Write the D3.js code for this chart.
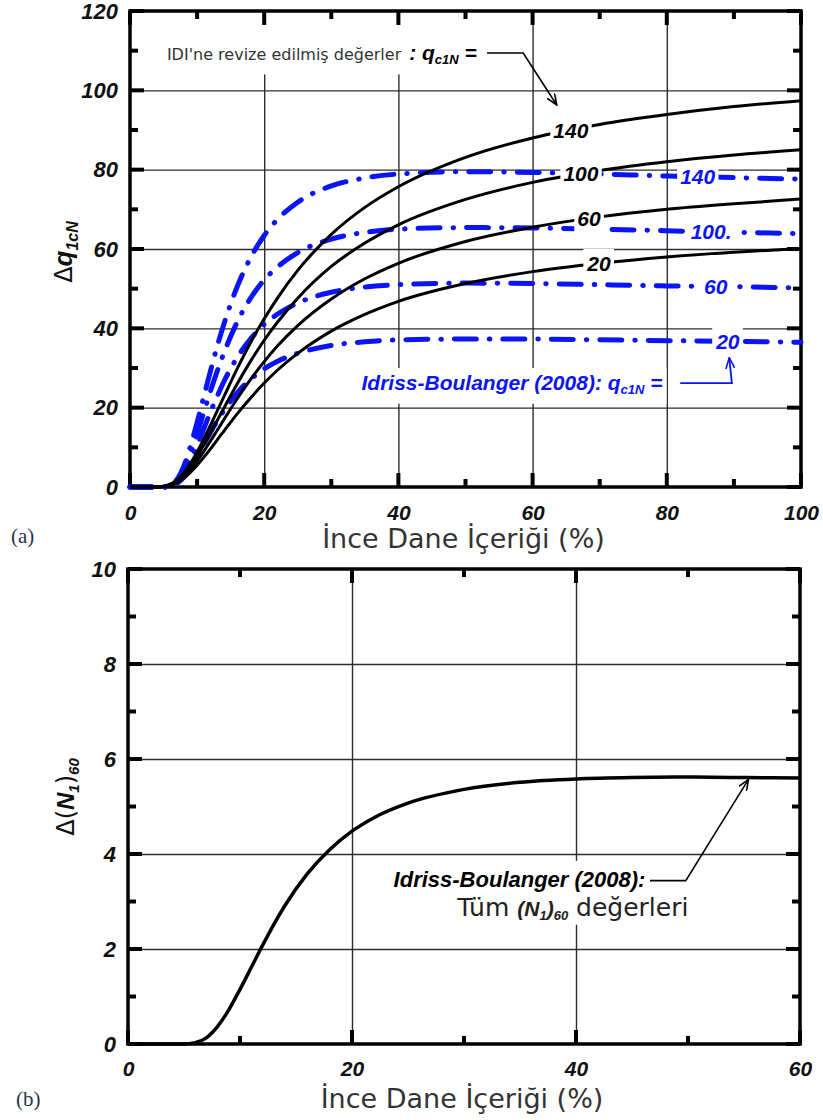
<!DOCTYPE html>
<html>
<head>
<meta charset="utf-8">
<script src="https://cdn.jsdelivr.net/npm/d3@7"></script>
<style>
  body { margin: 0; background: #fff; }
  svg { display: block; }
</style>
</head>
<body>
<svg id="fig" width="823" height="1120"></svg>
<script>
// ---- Panel (a): fines-content correction for CPT tip resistance ----
const FC = [0,4,5,6,7,8,9,10,11,12,13,14,16,18,20,22,25,30,35,40,50,60,70,80,90,100];

// revised curves (solid black), one per qc1N
const revised140 = [0,0,0.2,0.7,1.8,3.5,5.9,8.8,12.1,15.6,19.2,22.8,29.9,36.5,42.4,47.7,54.6,63.7,70.5,75.7,83.1,88.0,91.4,93.9,95.9,97.4];
const revised100 = [0,0,0.2,0.6,1.6,3.1,5.2,7.7,10.6,13.6,16.8,19.9,26.1,31.8,37.0,41.6,47.6,55.6,61.5,66.1,72.5,76.8,79.8,82.0,83.7,85.0];
const revised60  = [0,0,0.1,0.5,1.3,2.6,4.4,6.6,9.0,11.6,14.3,17.0,22.3,27.2,31.6,35.6,40.7,47.4,52.5,56.4,61.9,65.5,68.1,70.0,71.4,72.6];
const revised20  = [0,0,0.1,0.4,1.1,2.2,3.7,5.5,7.5,9.6,11.9,14.1,18.5,22.5,26.2,29.5,33.7,39.3,43.5,46.8,51.3,54.3,56.4,58.0,59.2,60.1];

// Idriss-Boulanger (2008) curves (blue dash-dot)
const ib140 = [0,0,0,0.4,1.9,5.2,10.2,16.3,22.8,29.3,35.5,41.1,50.6,57.9,63.4,67.5,71.8,75.9,77.9,78.9,79.5,79.3,78.9,78.4,78.0,77.6];
const ib100 = [0,0,0,0.3,1.6,4.3,8.4,13.4,18.8,24.2,29.2,33.8,41.7,47.7,52.2,55.5,59.1,62.5,64.2,65.0,65.4,65.3,65.0,64.6,64.2,63.9];
const ib60  = [0,0,0,0.3,1.2,3.4,6.6,10.5,14.7,19.0,22.9,26.6,32.7,37.4,41.0,43.6,46.4,49.1,50.4,51.0,51.4,51.3,51.0,50.7,50.5,50.2];
const ib20  = [0,0,0,0.2,0.9,2.4,4.8,7.6,10.7,13.8,16.7,19.3,23.8,27.2,29.8,31.7,33.7,35.7,36.6,37.1,37.3,37.3,37.1,36.9,36.7,36.5];

const revisedNames = ["140","100","60","20"];
const ibNames      = ["140","100.","60","20"];
// where along each curve (in FC) its qc1N label sits
const revisedLabelFC = [65.7, 67.2, 68.4, 69.9];
const ibLabelFC      = [84.6, 86.6, 87.3, 89.1];

const xTicksA = [0,20,40,60,80,100];
const xMinorA = [10,30,50,70,90];
const yTicksA = [0,20,40,60,80,100,120];
const yMinorA = [10,30,50,70,90,110];

// ---- Panel (b): SPT blow-count correction ----
const FC_B = [0,4,5,6,7,8,9,10,11,12,13,14,16,18,20,22,25,30,35,40,45,50,55,60];
const dN160 = [0,0,0,0.03,0.13,0.37,0.72,1.15,1.61,2.07,2.51,2.91,3.58,4.09,4.48,4.77,5.07,5.36,5.51,5.58,5.61,5.62,5.61,5.60];

const xTicksB = [0,20,40,60];
const xMinorB = [10,30,50];
const yTicksB = [0,2,4,6,8,10];
const yMinorB = [1,3,5,7,9];

const xTitle = "İnce Dane İçeriği (%)";

const BLUE = "#0a14f5";
const TICKFONT = '"Liberation Sans", Arial, sans-serif';
const SANS = '"DejaVu Sans", Verdana, sans-serif';

const svg = d3.select("#fig");

const defs = svg.append("defs");
function arrowMarker(id, color) {
  defs.append("marker")
    .attr("id", id).attr("viewBox", "0 0 12 10")
    .attr("refX", 11).attr("refY", 5)
    .attr("markerWidth", 12).attr("markerHeight", 10)
    .attr("markerUnits", "userSpaceOnUse")
    .attr("orient", "auto")
    .append("path").attr("d", "M0,0.5 L11,5 L0,9.5")
    .attr("fill", "none").attr("stroke", color).attr("stroke-width", 1.6);
}
arrowMarker("arrK", "#000");
arrowMarker("arrB", BLUE);

function buildPanel(o) {
  const x = d3.scaleLinear().domain(o.xDom).range([o.left, o.right]);
  const y = d3.scaleLinear().domain(o.yDom).range([o.bottom, o.top]);
  const h = o.bottom - o.top, w = o.right - o.left;
  const root = svg.append("g");
  const layers = {
    grid: root.append("g"),
    mask: root.append("g"),
    frame: root.append("g"),
    curves: root.append("g"),
    labels: root.append("g"),
    notes: root.append("g")
  };
  const gridStyle = s => {
    s.select(".domain").remove();
    s.selectAll(".tick line").attr("stroke", "#2e2e2e").attr("stroke-width", 1.4);
    s.selectAll(".tick text").remove();
  };
  const inner = v => v > o.xDom[0] && v < o.xDom[1];
  const innerY = v => v > o.yDom[0] && v < o.yDom[1];
  layers.grid.append("g").attr("transform", `translate(0,${o.bottom})`)
    .call(d3.axisBottom(x).tickValues(o.xTicks.filter(inner)).tickSize(-h)).call(gridStyle);
  layers.grid.append("g").attr("transform", `translate(${o.left},0)`)
    .call(d3.axisLeft(y).tickValues(o.yTicks.filter(innerY)).tickSize(-w)).call(gridStyle);

  // inward tick marks on all four sides
  const F = layers.frame;
  const segs = [];
  [[o.xTicks, 14], [o.xMinor, 8]].forEach(([vals, len]) => vals.forEach(v => {
    segs.push([x(v), o.bottom, x(v), o.bottom - len]);
    segs.push([x(v), o.top, x(v), o.top + len]);
  }));
  [[o.yTicks, 14], [o.yMinor, 8]].forEach(([vals, len]) => vals.forEach(v => {
    segs.push([o.left, y(v), o.left + len, y(v)]);
    segs.push([o.right, y(v), o.right - len, y(v)]);
  }));
  F.append("g").selectAll("line").data(segs).join("line")
    .attr("x1", d => d[0]).attr("y1", d => d[1]).attr("x2", d => d[2]).attr("y2", d => d[3])
    .attr("stroke", "#000").attr("stroke-width", 4);
  F.append("rect").attr("x", o.left).attr("y", o.top).attr("width", w).attr("height", h)
    .attr("fill", "none").attr("stroke", "#000").attr("stroke-width", 3.5);

  // tick labels
  const lblStyle = size => s => {
    s.select(".domain").remove();
    s.selectAll(".tick line").remove();
    s.selectAll(".tick text").attr("font-family", TICKFONT).attr("font-weight", "bold")
      .attr("font-style", "italic").attr("font-size", size).attr("fill", "#111");
  };
  F.append("g").attr("transform", `translate(0,${o.bottom})`)
    .call(d3.axisBottom(x).tickValues(o.xTicks).tickSize(0).tickPadding(o.xPad).tickFormat(d3.format("d")))
    .call(lblStyle(21));
  F.append("g").attr("transform", `translate(${o.left},0)`)
    .call(d3.axisLeft(y).tickValues(o.yTicks).tickSize(0).tickPadding(o.yPad).tickFormat(d3.format("d")))
    .call(lblStyle(22));

  // x-axis title
  F.append("text").attr("x", (o.left + o.right) / 2 - 2).attr("y", o.titleY)
    .attr("text-anchor", "middle").attr("font-family", SANS).attr("font-size", 27)
    .attr("fill", "#333").text(xTitle);
  // panel tag
  F.append("text").attr("x", o.tagX).attr("y", o.tagY)
    .attr("font-family", '"Liberation Serif", "Times New Roman", serif')
    .attr("font-size", 21).attr("fill", "#263450").text(o.tag);

  return { x, y, layers };
}

// white backing box behind a text element
function backBox(layer, textSel, padX, padY) {
  const b = textSel.node().getBBox();
  layer.insert("rect", ":first-child")
    .attr("x", b.x - padX).attr("y", b.y - padY)
    .attr("width", b.width + 2 * padX).attr("height", b.height + 2 * padY)
    .attr("fill", "#fff");
}

function interp(xs, ys, xv) {
  const i = Math.max(1, Math.min(xs.length - 1, d3.bisectLeft(xs, xv)));
  const t = (xv - xs[i - 1]) / (xs[i] - xs[i - 1]);
  return ys[i - 1] + t * (ys[i] - ys[i - 1]);
}

// ================= Panel (a) =================
const A = buildPanel({
  left: 130, right: 801, top: 11, bottom: 487,
  xDom: [0, 100], yDom: [0, 120],
  xTicks: xTicksA, xMinor: xMinorA, yTicks: yTicksA, yMinor: yMinorA,
  xPad: 18, yPad: 12, titleY: 548, tag: "(a)", tagX: 11, tagY: 543
});

// y title: Δq_1cN
{
  const t = A.layers.frame.append("text")
    .attr("transform", "translate(72,252) rotate(-90)")
    .attr("text-anchor", "middle").attr("fill", "#111");
  t.append("tspan").attr("font-family", SANS).attr("font-size", 24).text("Δ");
  t.append("tspan").attr("font-family", TICKFONT).attr("font-weight", "bold").attr("font-style", "italic")
    .attr("font-size", 26).text("q");
  t.append("tspan").attr("font-family", TICKFONT).attr("font-weight", "bold").attr("font-style", "italic")
    .attr("font-size", 16).attr("dy", 6).text("1cN");
}

const lineA = d3.line().x((d, i) => A.x(FC[i])).y(d => A.y(d)).curve(d3.curveMonotoneX);
const revisedSeries = [revised140, revised100, revised60, revised20];
const ibSeries = [ib140, ib100, ib60, ib20];

ibSeries.forEach(s => {
  A.layers.curves.append("path").attr("d", lineA(s))
    .attr("fill", "none").attr("stroke", BLUE).attr("stroke-width", 5)
    .attr("stroke-linecap", "round").attr("stroke-dasharray", "22,13,0.5,13");
});
revisedSeries.forEach(s => {
  A.layers.curves.append("path").attr("d", lineA(s))
    .attr("fill", "none").attr("stroke", "#000").attr("stroke-width", 3);
});

function curveLabel(P, xs, series, fcAt, text, color) {
  const g = P.layers.labels.append("g");
  const t = g.append("text").attr("x", P.x(fcAt)).attr("y", P.y(interp(xs, series, fcAt)))
    .attr("dy", "0.36em").attr("text-anchor", "middle")
    .attr("font-family", TICKFONT).attr("font-weight", "bold").attr("font-style", "italic")
    .attr("font-size", 21).attr("fill", color).text(text);
  backBox(g, t, 3, 3);
}
revisedSeries.forEach((s, i) => curveLabel(A, FC, s, revisedLabelFC[i], revisedNames[i], "#000"));
ibSeries.forEach((s, i) => curveLabel(A, FC, s, ibLabelFC[i], ibNames[i], BLUE));

// note: revised values, pointing to the black family
{
  const N = A.layers.notes;
  const t1 = N.append("text").attr("x", A.x(5.5)).attr("y", A.y(107.6))
    .attr("font-family", SANS).attr("font-size", 16).attr("fill", "#333")
    .text("IDI'ne revize edilmiş değerler");
  const t2 = N.append("text").attr("x", A.x(41.6)).attr("y", A.y(107.6))
    .attr("font-family", TICKFONT).attr("font-weight", "bold").attr("font-style", "italic")
    .attr("font-size", 21).attr("fill", "#000");
  t2.append("tspan").text(": q");
  t2.append("tspan").attr("font-size", 13).attr("dy", 4).text("c1N");
  t2.append("tspan").attr("dy", -4).text(" =");
  const b1 = t1.node().getBBox(), b2 = t2.node().getBBox();
  A.layers.mask.append("rect").attr("x", b1.x - 6).attr("y", A.y(118.5))
    .attr("width", b2.x + b2.width - b1.x + 12).attr("height", A.y(104) - A.y(118.5)).attr("fill", "#fff");
  N.append("path")
    .attr("d", d3.line()([[A.x(53.2), A.y(109.4)], [A.x(58.6), A.y(109.4)], [A.x(63.6), A.y(96.3)]]))
    .attr("fill", "none").attr("stroke", "#000").attr("stroke-width", 1.6)
    .attr("marker-end", "url(#arrK)");
}

// note: Idriss-Boulanger family
{
  const N = A.layers.notes;
  const t = N.append("text").attr("x", A.x(34.5)).attr("y", A.y(24.5))
    .attr("font-family", TICKFONT).attr("font-weight", "bold").attr("font-style", "italic")
    .attr("font-size", 21).attr("fill", BLUE);
  t.append("tspan").text("Idriss-Boulanger (2008): q");
  t.append("tspan").attr("font-size", 13).attr("dy", 4).text("c1N");
  t.append("tspan").attr("dy", -4).text(" =");
  const b = t.node().getBBox();
  A.layers.mask.append("rect").attr("x", b.x - 4).attr("y", A.y(30))
    .attr("width", b.width + 8).attr("height", A.y(21) - A.y(30)).attr("fill", "#fff");
  N.append("path")
    .attr("d", d3.line()([[A.x(82.0), A.y(26.2)], [A.x(89.7), A.y(26.2)], [A.x(89.3), A.y(32.6)]]))
    .attr("fill", "none").attr("stroke", BLUE).attr("stroke-width", 1.8)
    .attr("marker-end", "url(#arrB)");
}

// ================= Panel (b) =================
const B = buildPanel({
  left: 128, right: 800, top: 569, bottom: 1044,
  xDom: [0, 60], yDom: [0, 10],
  xTicks: xTicksB, xMinor: xMinorB, yTicks: yTicksB, yMinor: yMinorB,
  xPad: 17, yPad: 12, titleY: 1108, tag: "(b)", tagX: 16, tagY: 1106
});

// y title: Δ(N1)60
{
  const t = B.layers.frame.append("text")
    .attr("transform", "translate(74,797) rotate(-90)")
    .attr("text-anchor", "middle").attr("fill", "#111");
  const bi = s => s.attr("font-family", TICKFONT).attr("font-weight", "bold").attr("font-style", "italic");
  t.append("tspan").attr("font-family", SANS).attr("font-size", 24).text("Δ");
  t.append("tspan").attr("font-family", SANS).attr("font-size", 24).text("(");
  bi(t.append("tspan")).attr("font-size", 24).text("N");
  bi(t.append("tspan")).attr("font-size", 15).attr("dy", 5).text("1");
  t.append("tspan").attr("font-family", SANS).attr("font-size", 24).attr("dy", -5).text(")");
  bi(t.append("tspan")).attr("font-size", 15).attr("dy", 5).text("60");
}

const lineB = d3.line().x((d, i) => B.x(FC_B[i])).y(d => B.y(d)).curve(d3.curveMonotoneX);
B.layers.curves.append("path").attr("d", lineB(dN160))
  .attr("fill", "none").attr("stroke", "#000").attr("stroke-width", 3.5);

{
  const N = B.layers.notes;
  const t1 = N.append("text").attr("x", B.x(46.2)).attr("y", B.y(3.31))
    .attr("text-anchor", "end")
    .attr("font-family", TICKFONT).attr("font-weight", "bold").attr("font-style", "italic")
    .attr("font-size", 22).attr("fill", "#000").text("Idriss-Boulanger (2008):");
  const t2 = N.append("text").attr("x", B.x(29.4)).attr("y", B.y(2.70))
    .attr("font-family", SANS).attr("font-size", 25).attr("fill", "#222");
  t2.append("tspan").text("Tüm ");
  t2.append("tspan").attr("font-family", TICKFONT).attr("font-weight", "bold").attr("font-style", "italic")
    .attr("font-size", 21).text("(N");
  t2.append("tspan").attr("font-family", TICKFONT).attr("font-weight", "bold").attr("font-style", "italic")
    .attr("font-size", 13).attr("dy", 4).text("1");
  t2.append("tspan").attr("font-family", TICKFONT).attr("font-weight", "bold").attr("font-style", "italic")
    .attr("font-size", 21).attr("dy", -4).text(")");
  t2.append("tspan").attr("font-family", TICKFONT).attr("font-weight", "bold").attr("font-style", "italic")
    .attr("font-size", 13).attr("dy", 4).text("60");
  t2.append("tspan").attr("dy", -4).text(" değerleri");
  const b1 = t1.node().getBBox(), b2 = t2.node().getBBox();
  const x0 = Math.min(b1.x, b2.x) - 4, x1 = Math.max(b1.x + b1.width, b2.x + b2.width) + 4;
  B.layers.mask.append("rect").attr("x", x0).attr("y", b1.y - 6)
    .attr("width", x1 - x0).attr("height", b2.y + b2.height - b1.y + 8).attr("fill", "#fff");
  N.append("path")
    .attr("d", d3.line()([[B.x(46.6), B.y(3.44)], [B.x(49.8), B.y(3.44)], [B.x(55.4), B.y(5.57)]]))
    .attr("fill", "none").attr("stroke", "#000").attr("stroke-width", 1.6)
    .attr("marker-end", "url(#arrK)");
}
</script>
</body>
</html>
